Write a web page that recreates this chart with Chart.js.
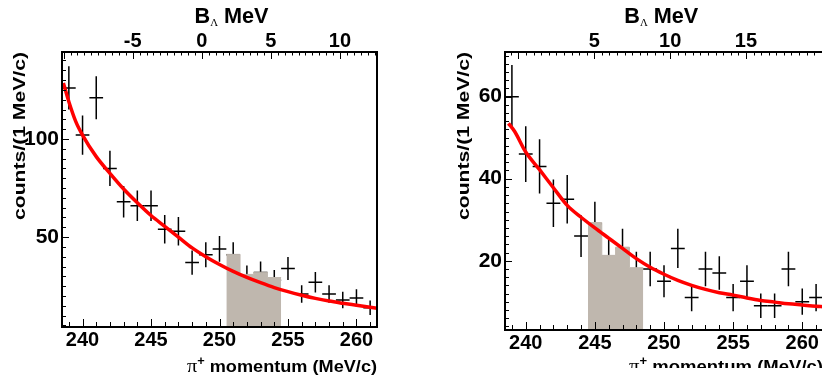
<!DOCTYPE html>
<html>
<head>
<meta charset="utf-8">
<script src="https://cdn.jsdelivr.net/npm/chart.js@4.4.1/dist/chart.umd.min.js"></script>
<style>
  html, body { margin: 0; padding: 0; background: #fff; overflow: hidden; width: 822px; height: 383px; }
  #left { position: absolute; left: 0; top: 0; }
  #right { position: absolute; left: 411px; top: 0; }
</style>
</head>
<body>
<canvas id="left" width="411" height="383"></canvas>
<canvas id="right" width="420" height="368"></canvas>
<script>
// pi+ momentum bins (MeV/c), one count per bin
const momentum = [239, 240, 241, 242, 243, 244, 245, 246, 247, 248, 249, 250,
                  251, 252, 253, 254, 255, 256, 257, 258, 259, 260, 261];

const leftCounts = [126, 102, 121, 85, 68, 66, 66, 54, 53, 37, 41, 44,
                    41, 30, 32, 28, 34, 21, 27, 21, 18, 19, 14];
const leftErrors = [11, 10, 11, 9, 8, 7.8, 7.8, 7.3, 7.3, 6.2, 6.4, 6.6,
                    6.4, 5.5, 5.6, 5.3, 5.8, 4.5, 5.2, 4.5, 4.2, 4.4, 3.7];

const rightCounts = [60, 46, 43, 34, 35, 26, 29, 21, 23, 18, 18, 15,
                     23, 11, 18, 17, 11, 15, 9, 9, 18, 10, 11];
const rightErrors = [7.7, 6.8, 6.6, 5.8, 5.9, 5.1, 5.4, 4.6, 4.8, 4.2, 4.2, 3.9,
                     4.8, 3.3, 4.2, 4.1, 3.3, 3.9, 3, 3, 4.2, 3.2, 3.3];

// shaded signal region (bin centres and heights)
const leftSignalBins = [251, 252, 253, 254];
const leftSignalCounts = [41.2, 31, 32.1, 29.4];
const rightSignalBins = [245, 246, 247, 248];
const rightSignalCounts = [29.3, 21.3, 23.3, 18.3];

// background fit curves
const leftFitX = [238.6, 239, 239.5, 240, 241, 242, 243, 244, 245, 246, 247, 248, 249, 250,
                  251, 252, 253, 254, 255, 256, 257, 258, 259, 260, 261, 261.5];
const leftFitY = [128.5, 119, 109, 102, 91, 82.5, 74.5, 67.5, 61, 55.5, 50, 44.5, 40, 36,
                  32.5, 29.5, 26.8, 24.3, 22.2, 20.4, 18.8, 17.4, 16.3, 15.3, 14.3, 13.8];
const rightFitX = [238.75, 239.2, 240, 241, 242, 243, 244, 245, 246, 247, 248, 249, 250,
                   251, 252, 253, 254, 255, 256, 257, 258, 259, 260, 261, 261.5];
const rightFitY = [53.5, 51.5, 46.5, 42.2, 37.8, 33.5, 30.6, 28, 25.5, 23, 20.5, 18.4, 16.7,
                   15.2, 14, 13, 12.2, 11.6, 10.9, 10.3, 9.9, 9.5, 9.2, 8.9, 8.8];

// tick labels
const momentumTicks = [240, 245, 250, 255, 260];
const leftCountTicks = [50, 100];
const rightCountTicks = [20, 40, 60];
const leftBindingTicks = [-5, 0, 5, 10];
const rightBindingTicks = [5, 10, 15];

const SANS = "'Liberation Sans', Arial, Helvetica, sans-serif";
const SERIF = "'Liberation Serif', 'Times New Roman', serif";
const GRAY = 'rgb(191,183,174)';

// data crosses: horizontal bar = bin width, vertical bar = error
const errorCrosses = {
    id: 'errorCrosses',
    beforeDatasetsDraw(chart) {
        const { ctx, chartArea: a, scales: { x, y } } = chart;
        ctx.save();
        ctx.beginPath();
        ctx.rect(a.left, a.top, a.right - a.left, a.bottom - a.top);
        ctx.clip();
        ctx.strokeStyle = '#000';
        ctx.lineWidth = 1.5;
        chart.data.datasets.forEach(ds => {
            if (!ds.errors) return;
            ds.data.forEach((p, i) => {
                const e = ds.errors[i];
                const px = x.getPixelForValue(p.x);
                const py = y.getPixelForValue(p.y);
                ctx.beginPath();
                ctx.moveTo(x.getPixelForValue(p.x - 0.5), py);
                ctx.lineTo(x.getPixelForValue(p.x + 0.5), py);
                ctx.moveTo(px, y.getPixelForValue(p.y + e));
                ctx.lineTo(px, y.getPixelForValue(p.y - e));
                ctx.stroke();
            });
        });
        ctx.restore();
    }
};

function piecesWidth(ctx, pieces) {
    let w = 0;
    pieces.forEach(p => { ctx.font = p.font; w += ctx.measureText(p.text).width; });
    return w;
}

function drawPieces(ctx, pieces) {
    let x = 0;
    pieces.forEach(p => {
        ctx.font = p.font;
        ctx.fillText(p.text, x, p.dy || 0);
        x += ctx.measureText(p.text).width;
    });
}

// ROOT-like frame with inside ticks, plus the axis titles
const rootFrame = {
    id: 'rootFrame',
    afterDraw(chart, args, o) {
        const { ctx, chartArea: a, scales } = chart;
        ctx.save();
        ctx.strokeStyle = '#000';
        ctx.fillStyle = '#000';
        ctx.lineWidth = 1;

        function marks(scale, step, major, minLen, majLen, side) {
            const k0 = Math.ceil(scale.min / step - 1e-9);
            const k1 = Math.floor(scale.max / step + 1e-9);
            ctx.beginPath();
            for (let k = k0; k <= k1; k++) {
                const v = k * step;
                const isMajor = Math.abs(v / major - Math.round(v / major)) < 1e-6;
                const len = isMajor ? majLen : minLen;
                const p = Math.round(scale.getPixelForValue(v)) + 0.5;
                if (side === 'bottom') { ctx.moveTo(p, a.bottom); ctx.lineTo(p, a.bottom - len); }
                if (side === 'top') { ctx.moveTo(p, a.top); ctx.lineTo(p, a.top + len); }
                if (side === 'left') { ctx.moveTo(a.left, p); ctx.lineTo(a.left + len, p); }
            }
            ctx.stroke();
        }
        marks(scales.x, 1, 5, 5, 8, 'bottom');
        marks(scales.x2, 0.5, 5, 3.5, 7, 'top');
        marks(scales.y, o.yMinor, o.yMajor, 4, 7, 'left');

        ctx.lineWidth = 2;
        ctx.strokeRect(a.left, a.top, a.right - a.left, a.bottom - a.top);

        ctx.textAlign = 'left';
        ctx.textBaseline = 'alphabetic';

        // top title
        const bPieces = [
            { text: 'B', font: 'bold 22px ' + SANS },
            { text: '\u039B', font: '11px ' + SERIF, dy: 3 },
            { text: ' MeV', font: 'bold 22px ' + SANS }
        ];
        let w = piecesWidth(ctx, bPieces);
        ctx.save();
        ctx.translate(o.bLeft, o.bBase);
        ctx.scale(o.bWidth / w, 1);
        drawPieces(ctx, bPieces);
        ctx.restore();

        // x title
        const xPieces = [
            { text: '\u03C0', font: '19px ' + SERIF },
            { text: '+', font: 'bold 12px ' + SANS, dy: -7 },
            { text: ' momentum (MeV/c)', font: 'bold 17px ' + SANS }
        ];
        w = piecesWidth(ctx, xPieces);
        ctx.save();
        ctx.translate(a.right - o.xWidth, o.xBase);
        ctx.scale(o.xWidth / w, 1);
        drawPieces(ctx, xPieces);
        ctx.restore();

        // y title
        const yPieces = [{ text: 'counts/(1 MeV/c)', font: 'bold 17px ' + SANS }];
        w = piecesWidth(ctx, yPieces);
        ctx.save();
        ctx.translate(o.yBase, o.yStart);
        ctx.rotate(-Math.PI / 2);
        ctx.scale((o.yStart - a.top) / w, 1);
        drawPieces(ctx, yPieces);
        ctx.restore();

        ctx.restore();
    }
};

function makeChart(id, cfg) {
    const points = momentum.map((m, i) => ({ x: m, y: cfg.counts[i] }));
    const signal = cfg.sigBins.map((b, i) => ({ x: b - 0.5, y: cfg.sigCounts[i] }));
    const last = cfg.sigBins.length - 1;
    signal.push({ x: cfg.sigBins[last] + 0.5, y: cfg.sigCounts[last] });
    const fit = cfg.fitX.map((x, i) => ({ x: x, y: cfg.fitY[i] }));

    const tickFont = size => ({ family: SANS, size: size, weight: 'bold' });
    const plain = { display: false, drawTicks: false };

    return new Chart(document.getElementById(id), {
        type: 'line',
        data: {
            datasets: [
                {
                    data: fit,
                    borderColor: '#ff0000',
                    borderWidth: 3.5,
                    pointRadius: 0,
                    cubicInterpolationMode: 'monotone',
                    fill: false,
                    order: 0
                },
                {
                    data: signal,
                    stepped: 'before',
                    fill: 'start',
                    backgroundColor: GRAY,
                    borderColor: GRAY,
                    borderWidth: 1,
                    pointRadius: 0,
                    order: 1
                },
                {
                    data: points,
                    errors: cfg.errors,
                    showLine: false,
                    pointRadius: 0,
                    order: 2
                }
            ]
        },
        options: {
            responsive: false,
            animation: false,
            devicePixelRatio: 1,
            layout: { padding: { right: cfg.padRight, left: 0, top: 0, bottom: 0 } },
            plugins: {
                legend: { display: false },
                tooltip: { enabled: false },
                rootFrame: cfg.frame
            },
            scales: {
                x: {
                    type: 'linear', position: 'bottom', min: 238.5, max: 261.5,
                    grid: plain, border: { display: false },
                    afterFit: s => { s.height = cfg.bottomH; },
                    afterBuildTicks: s => { s.ticks = momentumTicks.map(v => ({ value: v })); },
                    ticks: { font: tickFont(20), color: '#000', padding: 1, maxRotation: 0, autoSkip: false }
                },
                x2: {
                    type: 'linear', position: 'top', min: cfg.bMin, max: cfg.bMax,
                    grid: plain, border: { display: false },
                    afterFit: s => { s.height = 52; },
                    afterBuildTicks: s => { s.ticks = cfg.bTicks.map(v => ({ value: v })); },
                    ticks: { font: tickFont(20), color: '#000', padding: -1, maxRotation: 0, autoSkip: false }
                },
                y: {
                    type: 'linear', position: 'left', min: cfg.yMin, max: cfg.yMax,
                    grid: plain, border: { display: false },
                    afterFit: s => { s.width = cfg.leftW; },
                    afterBuildTicks: s => { s.ticks = cfg.yTicks.map(v => ({ value: v })); },
                    ticks: { font: tickFont(21), color: '#000', padding: 3, autoSkip: false }
                }
            }
        },
        plugins: [errorCrosses, rootFrame]
    });
}

makeChart('left', {
    counts: leftCounts, errors: leftErrors,
    sigBins: leftSignalBins, sigCounts: leftSignalCounts,
    fitX: leftFitX, fitY: leftFitY,
    yTicks: leftCountTicks, bTicks: leftBindingTicks,
    yMin: 4.2, yMax: 144.3, bMin: -10.12, bMax: 12.68,
    leftW: 62, bottomH: 56, padRight: 34,
    frame: { yMinor: 5, yMajor: 50, bLeft: 194.5, bBase: 23, bWidth: 74,
             xWidth: 190, xBase: 371.5, yBase: 25, yStart: 220 }
});

makeChart('right', {
    counts: rightCounts, errors: rightErrors,
    sigBins: rightSignalBins, sigCounts: rightSignalCounts,
    fitX: rightFitX, fitY: rightFitY,
    yTicks: rightCountTicks, bTicks: rightBindingTicks,
    yMin: 3.1, yMax: 70.9, bMin: -0.89, bMax: 20.08,
    leftW: 94, bottomH: 38, padRight: 8,
    frame: { yMinor: 2, yMajor: 20, bLeft: 213.3, bBase: 23.3, bWidth: 74,
             xWidth: 194, xBase: 372, yBase: 57.7, yStart: 220 }
});
</script>
</body>
</html>
